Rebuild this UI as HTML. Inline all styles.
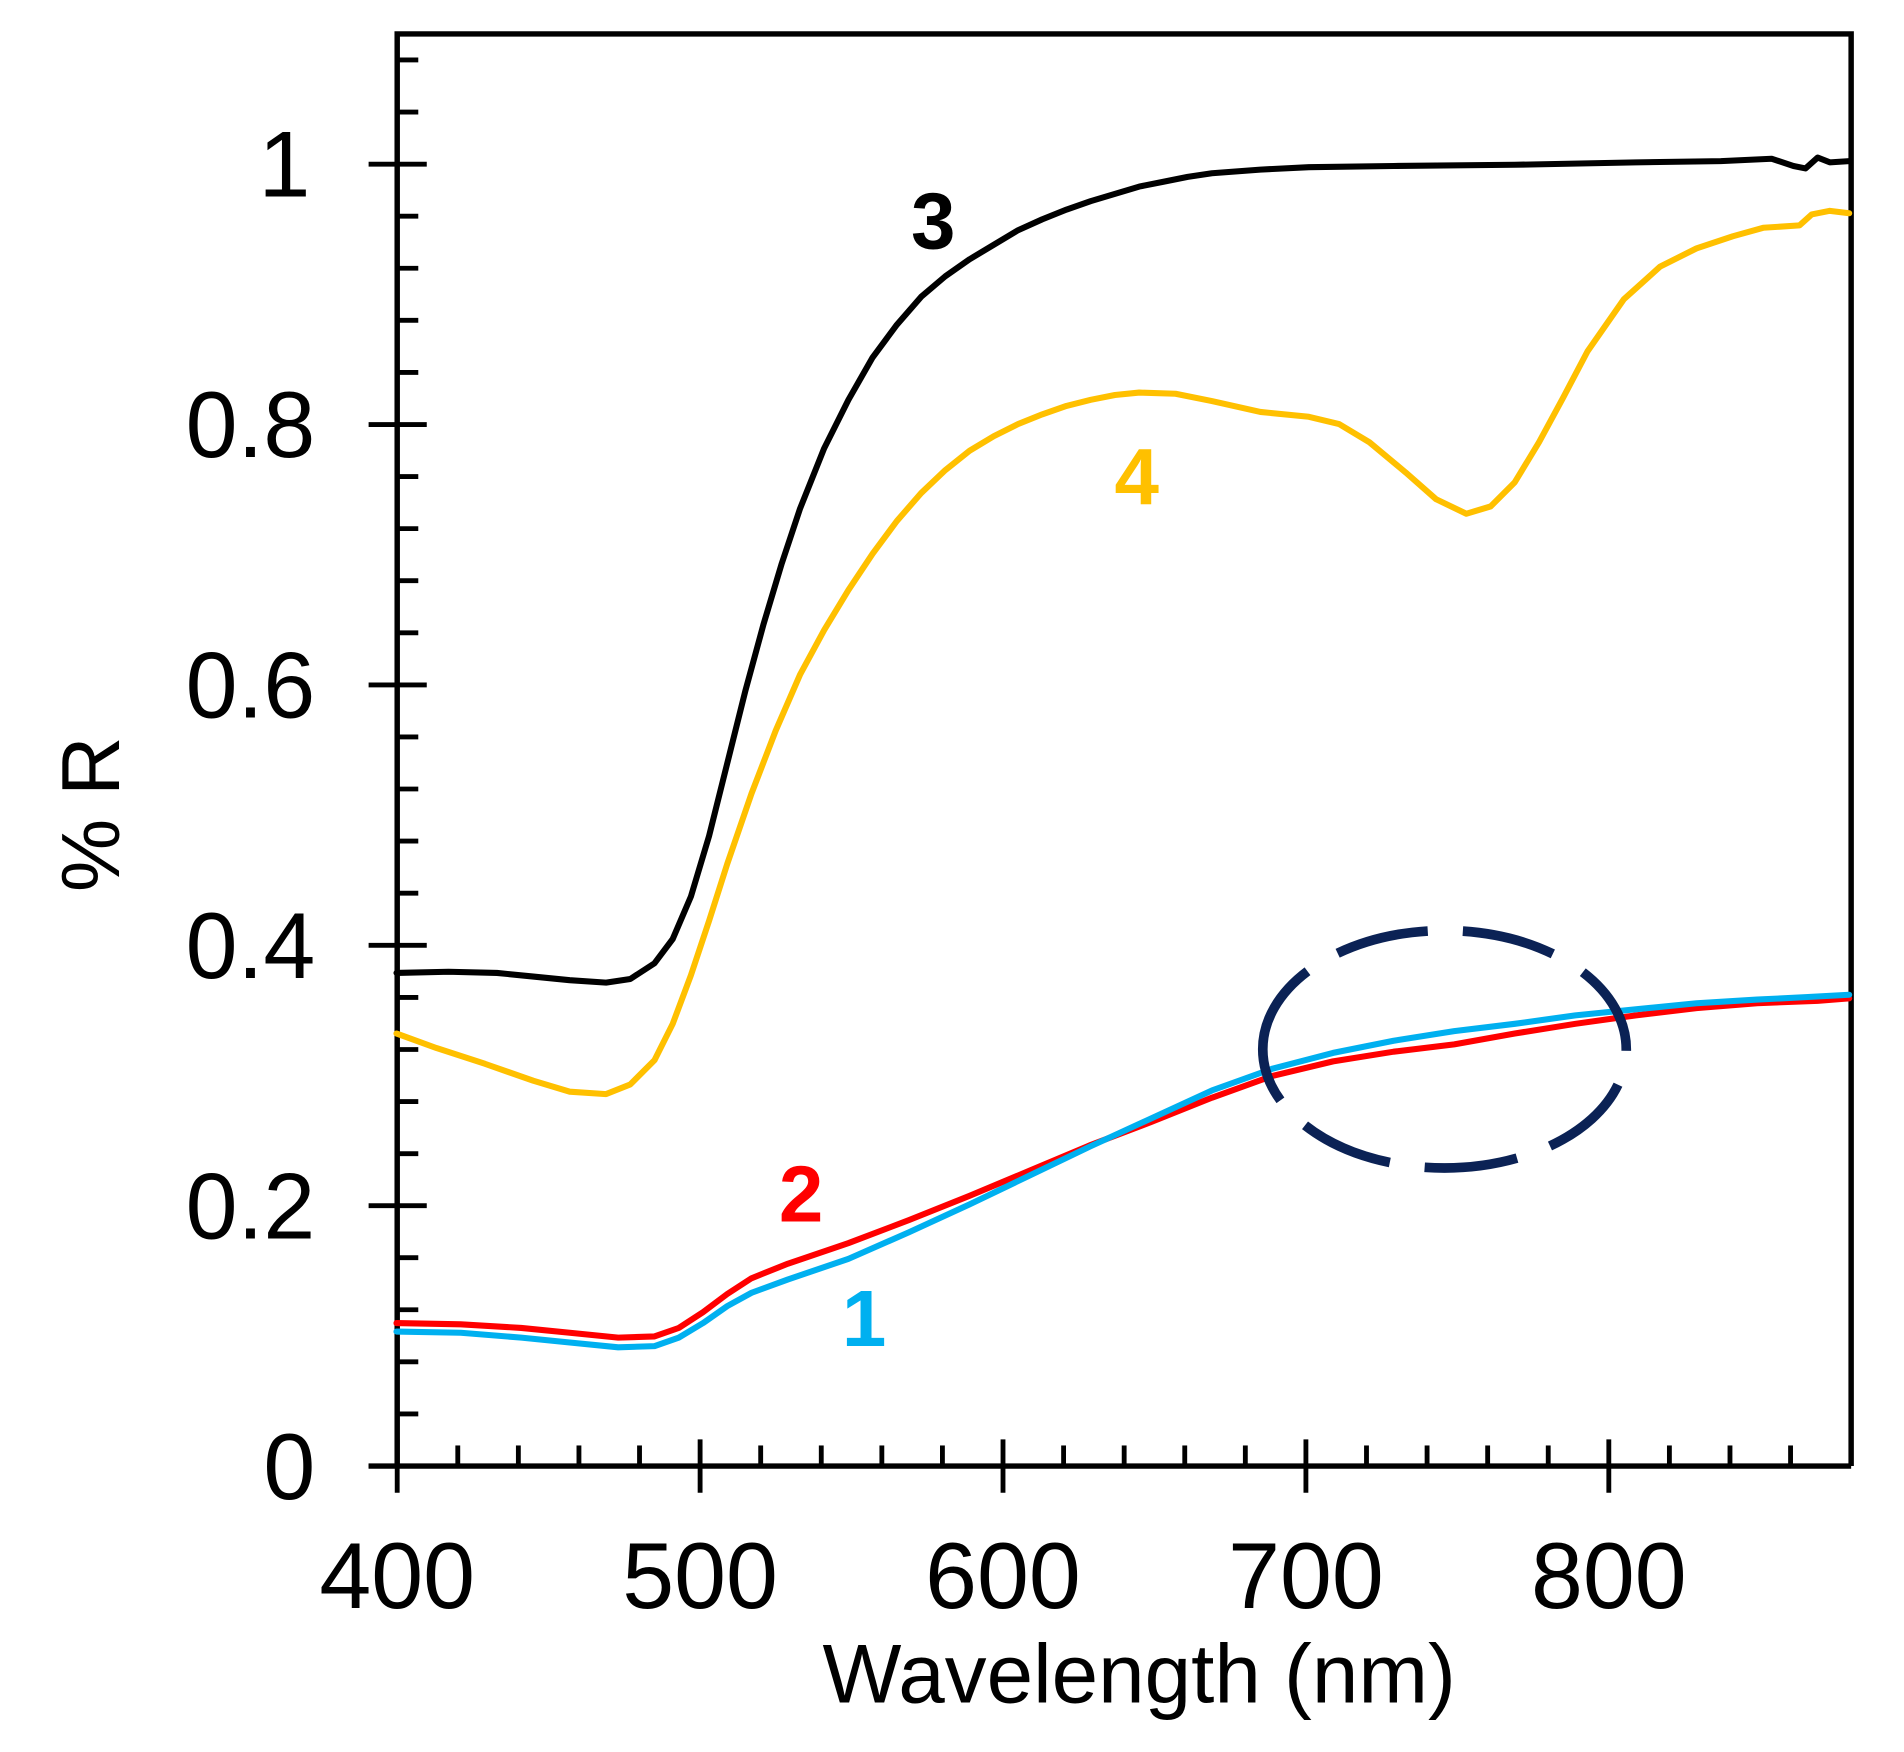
<!DOCTYPE html>
<html><head><meta charset="utf-8"><style>
html,body{margin:0;padding:0;background:#fff;}
svg{display:block;}
text{font-family:"Liberation Sans",Arial,sans-serif;}
</style></head><body>
<svg width="1904" height="1752" viewBox="0 0 1571 1446" xmlns="http://www.w3.org/2000/svg">
<rect width="1571" height="1446" fill="#fff"/>
<g stroke="#000" stroke-width="4.5" fill="none">
<polyline points="327.6,1210 327.6,28 1527.6,28 1527.6,1210"/>
<line x1="304" y1="1210" x2="1527.6" y2="1210"/>
</g>
<g stroke="#000" stroke-width="4">
<line x1="304" y1="1210" x2="352" y2="1210"/>
<line x1="304" y1="995.1" x2="352" y2="995.1"/>
<line x1="304" y1="780.2" x2="352" y2="780.2"/>
<line x1="304" y1="565.3" x2="352" y2="565.3"/>
<line x1="304" y1="350.4" x2="352" y2="350.4"/>
<line x1="304" y1="135.5" x2="352" y2="135.5"/>
<line x1="327" y1="1167" x2="345" y2="1167"/><line x1="327" y1="1124" x2="345" y2="1124"/><line x1="327" y1="1081" x2="345" y2="1081"/><line x1="327" y1="1038" x2="345" y2="1038"/>
<line x1="327" y1="952.2" x2="345" y2="952.2"/><line x1="327" y1="909.2" x2="345" y2="909.2"/><line x1="327" y1="866.2" x2="345" y2="866.2"/><line x1="327" y1="823.2" x2="345" y2="823.2"/>
<line x1="327" y1="737.2" x2="345" y2="737.2"/><line x1="327" y1="694.2" x2="345" y2="694.2"/><line x1="327" y1="651.2" x2="345" y2="651.2"/><line x1="327" y1="608.2" x2="345" y2="608.2"/>
<line x1="327" y1="522.3" x2="345" y2="522.3"/><line x1="327" y1="479.3" x2="345" y2="479.3"/><line x1="327" y1="436.3" x2="345" y2="436.3"/><line x1="327" y1="393.3" x2="345" y2="393.3"/>
<line x1="327" y1="307.4" x2="345" y2="307.4"/><line x1="327" y1="264.4" x2="345" y2="264.4"/><line x1="327" y1="221.4" x2="345" y2="221.4"/><line x1="327" y1="178.4" x2="345" y2="178.4"/>
<line x1="327" y1="92.5" x2="345" y2="92.5"/><line x1="327" y1="49.5" x2="345" y2="49.5"/>
<line x1="327.6" y1="1188" x2="327.6" y2="1232"/>
<line x1="577.6" y1="1188" x2="577.6" y2="1232"/>
<line x1="827.6" y1="1188" x2="827.6" y2="1232"/>
<line x1="1077.6" y1="1188" x2="1077.6" y2="1232"/>
<line x1="1327.6" y1="1188" x2="1327.6" y2="1232"/>
<line x1="377.6" y1="1193" x2="377.6" y2="1210"/><line x1="427.6" y1="1193" x2="427.6" y2="1210"/><line x1="477.6" y1="1193" x2="477.6" y2="1210"/><line x1="527.6" y1="1193" x2="527.6" y2="1210"/>
<line x1="627.6" y1="1193" x2="627.6" y2="1210"/><line x1="677.6" y1="1193" x2="677.6" y2="1210"/><line x1="727.6" y1="1193" x2="727.6" y2="1210"/><line x1="777.6" y1="1193" x2="777.6" y2="1210"/>
<line x1="877.6" y1="1193" x2="877.6" y2="1210"/><line x1="927.6" y1="1193" x2="927.6" y2="1210"/><line x1="977.6" y1="1193" x2="977.6" y2="1210"/><line x1="1027.6" y1="1193" x2="1027.6" y2="1210"/>
<line x1="1127.6" y1="1193" x2="1127.6" y2="1210"/><line x1="1177.6" y1="1193" x2="1177.6" y2="1210"/><line x1="1227.6" y1="1193" x2="1227.6" y2="1210"/><line x1="1277.6" y1="1193" x2="1277.6" y2="1210"/>
<line x1="1377.6" y1="1193" x2="1377.6" y2="1210"/><line x1="1427.6" y1="1193" x2="1427.6" y2="1210"/><line x1="1477.6" y1="1193" x2="1477.6" y2="1210"/>
</g>
<g font-size="77" fill="#000" text-anchor="end">
<text x="260" y="1237">0</text>
<text x="260" y="1022">0.2</text>
<text x="260" y="807">0.4</text>
<text x="260" y="592">0.6</text>
<text x="260" y="377">0.8</text>
<text x="256" y="162">1</text>
</g>
<g font-size="77" fill="#000" text-anchor="middle">
<text x="327.6" y="1327">400</text>
<text x="577.6" y="1327">500</text>
<text x="827.6" y="1327">600</text>
<text x="1077.6" y="1327">700</text>
<text x="1327.6" y="1327">800</text>
</g>
<text x="940" y="1405" font-size="69" text-anchor="middle" fill="#000">Wavelength (nm)</text>
<text transform="translate(98,672) rotate(-90)" font-size="68" text-anchor="middle" fill="#000">% R</text>
<g fill="none" stroke-width="5" stroke-linejoin="round" stroke-linecap="round">
<polyline stroke="#000" points="327,803 370,802 410,803 440,806 470,809 500,811 520,808 540,795 555,775 570,740 585,690 600,630 615,570 630,515 645,465 660,420 680,370 700,330 720,295 740,268 760,245 780,228 800,214 820,202 840,190 860,181 880,173 900,166 920,160 940,154 960,150 980,146 1000,143 1040,140 1080,138 1150,137 1250,136 1350,134 1420,133 1462,131 1480,137 1490,139 1500,130 1510,134 1526,133"/>
<polyline stroke="#FFC000" points="327,853 360,865 400,878 440,892 470,901 500,903 520,895 540,875 555,845 570,805 585,760 600,713 620,655 640,603 660,557 680,520 700,487 720,457 740,430 760,407 780,388 800,372 820,360 840,350 860,342 880,335 900,330 920,326 940,324 970,325 1000,331 1040,340 1080,344 1105,350 1130,365 1160,390 1185,412 1210,424 1230,418 1250,398 1270,365 1290,328 1310,290 1340,247 1370,220 1400,205 1430,195 1455,188 1485,186 1495,177 1510,174 1526,176"/>
<polyline stroke="#FF0000" points="327,1092 380,1093 430,1096 470,1100 510,1104 540,1103 560,1096 580,1083 600,1068 620,1055 650,1043 700,1026 750,1007 800,987 850,966 900,945 950,926 1000,906 1050,888 1100,876 1150,868 1200,862 1250,853 1300,845 1350,838 1400,832 1450,828 1500,826 1526,824"/>
<polyline stroke="#00B0F0" points="327,1099 380,1100 430,1104 470,1108 510,1112 540,1111 560,1104 580,1092 600,1078 620,1067 650,1056 700,1039 750,1017 800,994 850,970 900,946 950,923 1000,900 1050,882 1100,869 1150,859 1200,851 1250,845 1300,838 1350,833 1400,828 1450,825 1490,823 1526,821"/>
</g>
<path d="M1042,866 A150,98 0 1 1 1342,866 A150,98 0 1 1 1042,866" fill="none" stroke="#0B2255" stroke-width="8" stroke-dasharray="77 29"/>
<g font-size="66" font-weight="bold" text-anchor="middle">
<text x="770" y="205" fill="#000">3</text>
<text x="938" y="416" fill="#FFC000">4</text>
<text x="661" y="1008" fill="#FF0000">2</text>
<text x="713" y="1111" fill="#00B0F0">1</text>
</g>
</svg>
</body></html>
